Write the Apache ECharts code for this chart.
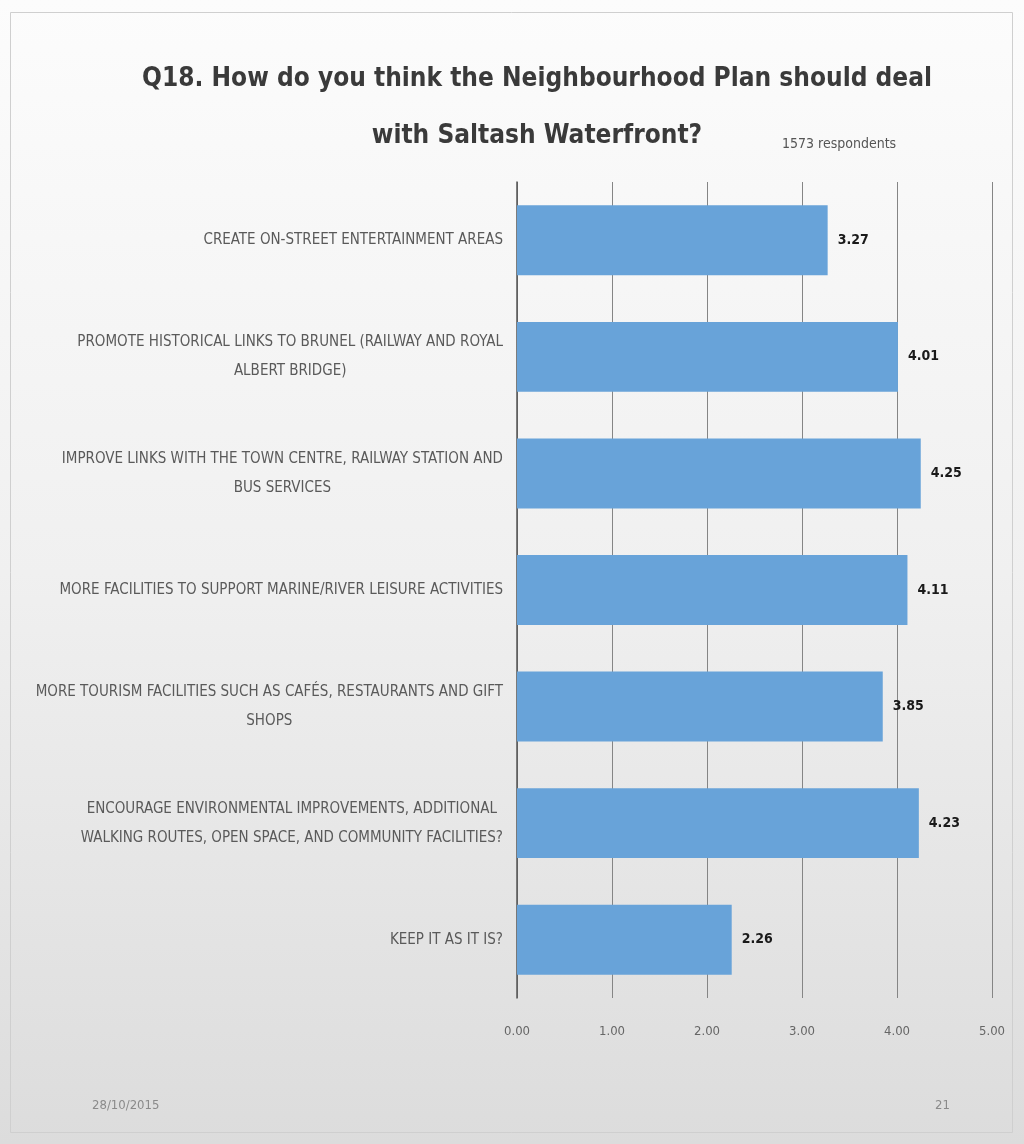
<!DOCTYPE html>
<html>
<head>
<meta charset="utf-8">
<style>
  html, body { margin: 0; padding: 0; background: #ffffff; }
  #chart { width: 1024px; height: 1144px; }
</style>
<script src="https://cdn.jsdelivr.net/npm/echarts@6/dist/echarts.min.js"></script>
</head>
<body>
<div id="chart"></div>
<script>
const titleText = 'Q18. How do you think the Neighbourhood Plan should deal\nwith Saltash Waterfront?';
const respondentsText = '1573 respondents';
const footerDate = '28/10/2015';
const footerPage = '21';

const categories = [
  'CREATE ON-STREET ENTERTAINMENT AREAS',
  'PROMOTE HISTORICAL LINKS TO BRUNEL (RAILWAY AND ROYAL\nALBERT BRIDGE)',
  'IMPROVE LINKS WITH THE TOWN CENTRE, RAILWAY STATION AND\nBUS SERVICES',
  'MORE FACILITIES TO SUPPORT MARINE/RIVER LEISURE ACTIVITIES',
  'MORE TOURISM FACILITIES SUCH AS CAFÉS, RESTAURANTS AND GIFT\nSHOPS',
  'ENCOURAGE ENVIRONMENTAL IMPROVEMENTS, ADDITIONAL\nWALKING ROUTES, OPEN SPACE, AND COMMUNITY FACILITIES?',
  'KEEP IT AS IT IS?'
];
const values = [3.27, 4.01, 4.25, 4.11, 3.85, 4.23, 2.26];
const tickLabels = ['0.00', '1.00', '2.00', '3.00', '4.00', '5.00'];

const NARROW = '"Liberation Sans Narrow", "DejaVu Sans Condensed", "Roboto Condensed", sans-serif';

const chart = echarts.init(document.getElementById('chart'), null, { renderer: 'canvas' });

chart.setOption({
  backgroundColor: {
    type: 'linear', x: 0, y: 0, x2: 0, y2: 1,
    colorStops: [
      { offset: 0, color: '#fcfcfc' },
      { offset: 0.5, color: '#f0f0f0' },
      { offset: 1, color: '#dcdcdc' }
    ]
  },
  animation: false,
  title: [
    {
      text: titleText,
      left: 532,
      top: 46,
      textAlign: 'center',
      textStyle: {
        fontFamily: NARROW,
        fontWeight: 'bold',
        fontSize: 26,
        lineHeight: 57,
        color: '#3a3a3a'
      }
    },
    {
      text: respondentsText,
      left: 777,
      top: 132,
      textStyle: {
        fontFamily: NARROW,
        fontWeight: 'normal',
        fontSize: 14,
        color: '#555555'
      }
    }
  ],
  graphic: [
    {
      type: 'rect',
      shape: { x: 10.5, y: 12.5, width: 1002, height: 1120 },
      style: { fill: 'none', stroke: '#cfcfcf', lineWidth: 1 },
      silent: true
    },
    {
      type: 'text',
      left: 92,
      top: 1099,
      style: { text: footerDate, font: '13px ' + NARROW, fill: '#8a8a8a' }
    },
    {
      type: 'text',
      left: 935,
      top: 1099,
      style: { text: footerPage, font: '13px ' + NARROW, fill: '#8a8a8a' }
    }
  ],
  grid: {
    left: 517,
    right: 32,
    top: 182,
    bottom: 146,
    containLabel: false
  },
  xAxis: {
    type: 'value',
    min: 0,
    max: 5,
    interval: 1,
    axisLine: { show: false },
    axisTick: { show: false },
    splitLine: { show: true, lineStyle: { color: '#858585', width: 1 } },
    axisLabel: {
      margin: 27,
      fontFamily: NARROW,
      fontSize: 13,
      color: '#666666',
      formatter: function (v) { return tickLabels[Math.round(v)]; }
    }
  },
  yAxis: {
    type: 'category',
    inverse: true,
    data: categories,
    axisLine: { show: true, lineStyle: { color: '#555555', width: 1.5 } },
    axisTick: { show: false },
    axisLabel: {
      margin: 14,
      formatter: function (v) {
        return v.split('\n').map(function (l) { return '{c|' + l + '}'; }).join('\n');
      },
      rich: {
        c: {
          align: 'center',
          fontFamily: NARROW,
          fontSize: 15,
          lineHeight: 29,
          color: '#5a5a5a'
        }
      }
    }
  },
  series: [
    {
      type: 'bar',
      data: values,
      barCategoryGap: '40%',
      itemStyle: { color: '#68a3d9' },
      label: {
        show: true,
        position: 'right',
        distance: 10,
        fontFamily: NARROW,
        fontWeight: 'bold',
        fontSize: 14,
        color: '#1a1a1a',
        formatter: function (p) { return p.value.toFixed(2); }
      }
    }
  ]
});
</script>
</body>
</html>
